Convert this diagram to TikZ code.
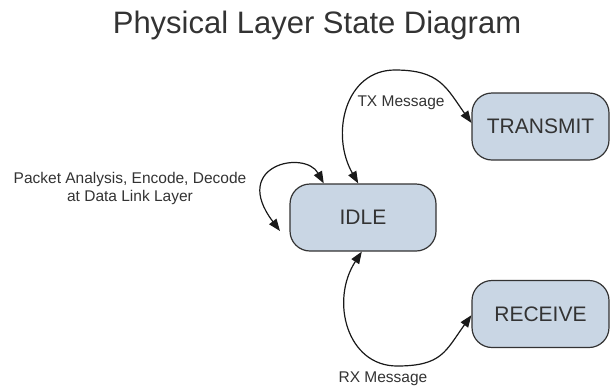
\documentclass[tikz,border=0pt]{standalone}
\usepackage{fontspec}
\setmainfont{Liberation Sans}
\usetikzlibrary{arrows.meta}
\definecolor{boxfill}{HTML}{C9D6E4}
\definecolor{boxline}{HTML}{333333}
\definecolor{txt}{HTML}{333333}
\begin{document}
\begin{tikzpicture}[x=1pt,y=-1pt,
  state/.style={draw=boxline,fill=boxfill,line width=1.2pt,rounded corners=20pt,
    minimum width=137pt,minimum height=67pt,inner sep=0pt,text=txt,
    font=\fontsize{21}{25}\selectfont},
  lbl/.style={text=txt,inner sep=0pt,font=\fontsize{15.5}{18}\selectfont},
  conn/.style={line width=1.2pt,draw=black!90,
    {Triangle[length=12pt,width=9pt]}-{Triangle[length=12pt,width=9pt]}}]
\useasboundingbox (0,0) rectangle (610,389);
\node[text=txt,inner sep=0pt,anchor=base,font=\fontsize{31}{36}\selectfont] (title) at (317,33) {Physical Layer State Diagram};
\node[state,minimum width=146pt] (idle) at (363,217.5) {IDLE};
\node[state] (transmit) at (540.5,126.5) {TRANSMIT};
\node[state] (receive) at (540.5,314) {RECEIVE};
\coordinate (loopend) at (280,231);
\coordinate (txtop) at (395,70);
\coordinate (rxbot) at (397,366);
\draw[conn] (idle.98) .. controls +(-28,-49) and (345,70) .. (txtop)
  .. controls (440,70) and +(-25,-35) .. (transmit.177);
\draw[conn] (idle.268) .. controls +(-32,49) and (347,366) .. (rxbot)
  .. controls (442,366) and +(-26,36) .. (receive.181);
\draw[conn] (idle.139) .. controls +(-19,-34) and +(-50,-66) .. (loopend);
\node[lbl] (txl) at (401,103) {TX Message};
\node[lbl] (rxl) at (383,379) {RX Message};
\node[lbl,align=center] (pkl) at (130,188) {Packet Analysis, Encode, Decode\\at Data Link Layer};
\end{tikzpicture}
\end{document}
